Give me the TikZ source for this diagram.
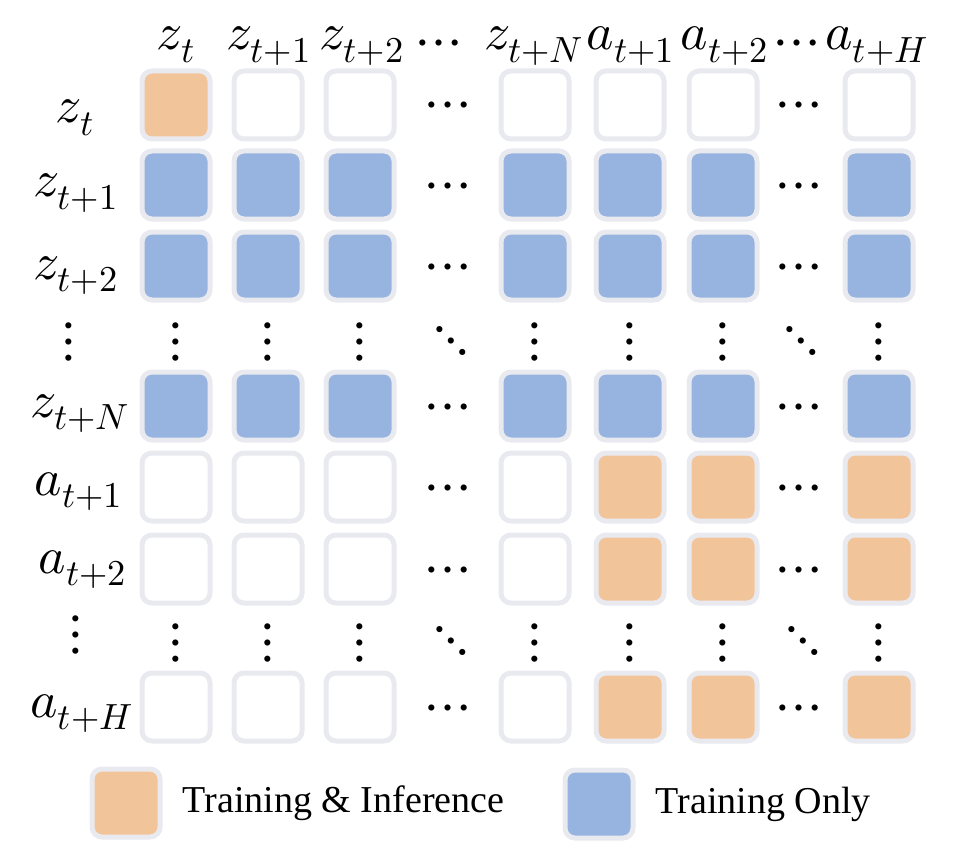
\documentclass[tikz,border=0pt]{standalone}
\usepackage{fontspec}
\usepackage{unicode-math}
\setmainfont{Liberation Serif}
\setmathfont{Latin Modern Math}
\usepackage{tikz}
\usetikzlibrary{positioning}
\definecolor{maskGray}  {HTML}{E9EAEF}
\definecolor{maskOrange}{HTML}{F2C49A}
\definecolor{maskBlue}  {HTML}{97B3DF}
\tikzset{
  cellbox/.style = {rectangle, rounded corners=5pt, draw=maskGray,
                    line width=2.5pt, minimum size=34pt, inner sep=0pt},
  ticell/.style  = {fill=maskOrange},
  trcell/.style  = {fill=maskBlue},
  nocell/.style  = {fill=white},
  lbl/.style     = {inner sep=0pt, font=\fontsize{26}{30}\selectfont},
  dotlbl/.style  = {inner sep=0pt, font=\fontsize{29}{33}\selectfont},
  legtext/.style = {inner sep=0pt, font=\fontsize{19}{23}\selectfont},
}

\begin{document}
\begin{tikzpicture}[x=0.5pt, y=-0.5pt]
    \useasboundingbox (0,0) rectangle (962,866);
    % column heads
    \foreach \c/\x/\t in {1/176/z_t, 2/269/z_{t+1}, 3/362/z_{t+2}, 5/534/z_{t+N},
                          6/631/a_{t+1}, 7/725/a_{t+2}, 9/877/a_{t+H}}
      \node[lbl, anchor=base] (top-\c) at (\x,50) {$\t$};
    \node[dotlbl, anchor=base] (top-4) at (439,58) {$\cdots$};
    \node[dotlbl, anchor=base] (top-8) at (797,58) {$\cdots$};
    % row heads
    \foreach \r/\x/\y/\t in {1/75/123/z_t, 2/76/197/z_{t+1}, 3/76/279/z_{t+2},
                             5/80/417/z_{t+N}, 6/79/495/a_{t+1}, 7/83/573/a_{t+2},
                             9/82/717/a_{t+H}}
      \node[lbl, anchor=base] (side-\r) at (\x,\y) {$\t$};
    % cells
    \foreach \c/\x/\first/\act in {1/176/ticell/nocell, 2/268/nocell/nocell,
                                   3/360/nocell/nocell, 5/535/nocell/nocell,
                                   6/630/nocell/ticell, 7/723/nocell/ticell,
                                   9/879/nocell/ticell}{
      \node[cellbox, \first] (c1-\c) at (\x,105) {};
      \foreach \r/\y in {2/185, 3/266, 5/406}
        \node[cellbox, trcell] (c\r-\c) at (\x,\y) {};
      \foreach \r/\y in {6/487, 7/569, 9/707}
        \node[cellbox, \act] (c\r-\c) at (\x,\y) {};
      \node[dotlbl] (c4-\c) at (\x,342) {$\vdots$};
      \node[dotlbl] (c8-\c) at (\x,643) {$\vdots$};
    }
    % dots between cells
    \foreach \r/\y in {1/105, 2/185, 3/266, 5/406, 6/487, 7/569, 9/707}{
      \node[dotlbl, anchor=base] (c\r-4) at (448,{\y+15}) {$\cdots$};
      \node[dotlbl, anchor=base] (c\r-8) at (799,{\y+15}) {$\cdots$};
    }
    \node[dotlbl] (side-4) at (69,342) {$\vdots$};
    \node[dotlbl] (side-8) at (76,635) {$\vdots$};
    \node[dotlbl] (c4-4) at (451,341) {$\ddots$};
    \node[dotlbl] (c4-8) at (801,341) {$\ddots$};
    \node[dotlbl] (c8-4) at (451,641) {$\ddots$};
    \node[dotlbl] (c8-8) at (803,641) {$\ddots$};
    % legend
    \node[cellbox, ticell] (leg-ti) at (126,803) {};
    \node[legtext, right=10pt of leg-ti] (leg-ti-text) {Training \& Inference};
    \node[cellbox, trcell] (leg-tr) at (599,804) {};
    \node[legtext, right=10pt of leg-tr] (leg-tr-text) {Training Only};
  \end{tikzpicture}
\end{document}
